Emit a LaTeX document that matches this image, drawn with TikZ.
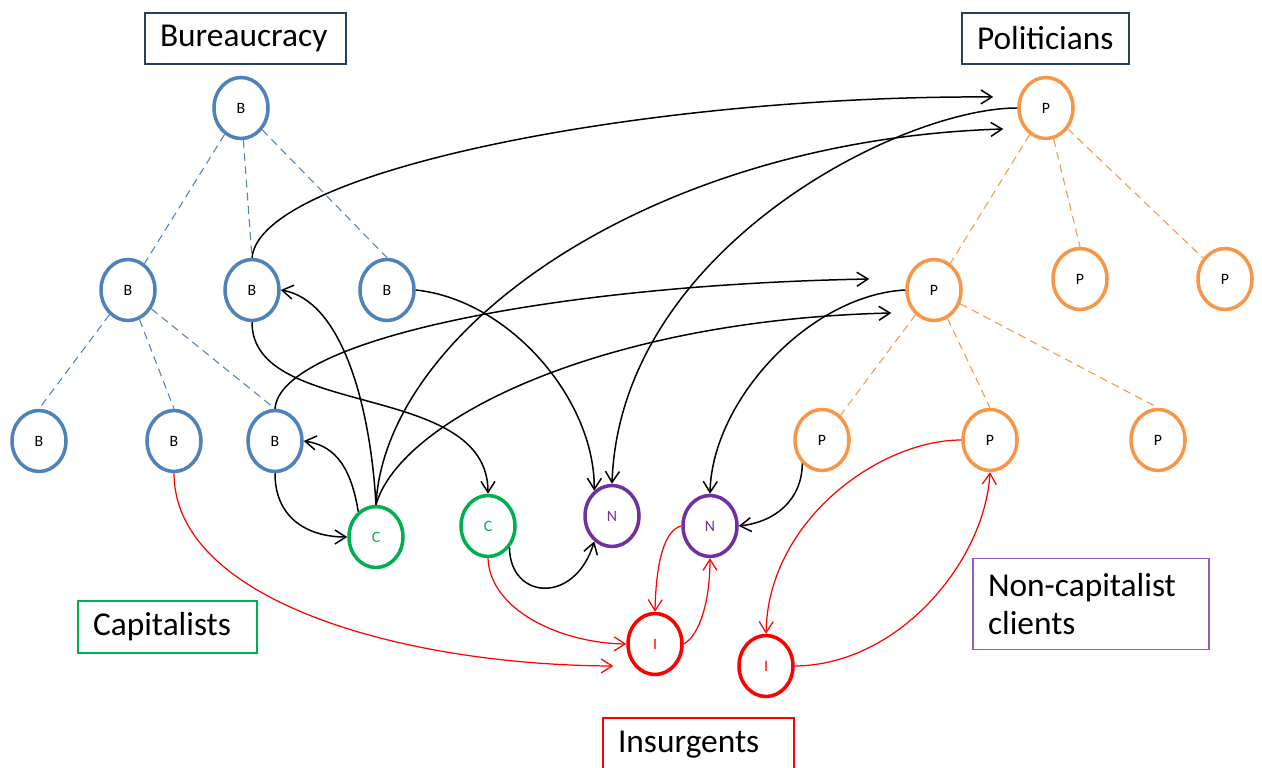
\documentclass[tikz,border=0pt]{standalone}
\usepackage{fontspec}
\setmainfont{Carlito}
\usetikzlibrary{shapes.geometric,arrows.meta}

\definecolor{bblue}{RGB}{79,129,189}
\definecolor{porange}{RGB}{247,150,70}
\definecolor{cgreen}{RGB}{0,176,80}
\definecolor{npurple}{RGB}{112,48,160}
\definecolor{ired}{RGB}{255,0,0}
\definecolor{navy}{RGB}{37,64,97}
\definecolor{lpurple}{RGB}{142,94,194}

\tikzset{
  actor/.style={ellipse,draw,line width=2pt,minimum width=1.08cm,minimum height=1.22cm,inner sep=0pt,font=\fontsize{9}{10}\selectfont},
  bnode/.style={actor,draw=bblue},
  pnode/.style={actor,draw=porange},
  cnode/.style={actor,draw=cgreen,text=cgreen},
  nnode/.style={actor,draw=npurple,text=npurple},
  inode/.style={actor,draw=ired,text=ired},
  group/.style={draw,line width=0.7pt,align=left,inner xsep=0.3cm,inner ysep=0pt,font=\fontsize{19}{21.5}\selectfont},
  tie/.style={dash pattern=on 4.5pt off 3pt,line width=0.6pt},
  link/.style={->,line width=0.85pt},
  rlink/.style={->,ired,line width=0.7pt}
}

\begin{document}
\begin{tikzpicture}[x=0.2mm,y=-0.2mm,>={Straight Barb[length=2.2mm,width=2.8mm]}]
 \useasboundingbox (0,0) rectangle (1262,768);
 % group labels
 \node[group,draw=navy,text width=3.42cm,minimum height=1.02cm] (lbur) at (245.5,38.5) {Bureaucracy};
 \node[group,draw=navy,text width=2.74cm,minimum height=1.02cm] (lpol) at (1045.5,38.5) {Politicians};
 \node[group,draw=cgreen,text width=2.98cm,minimum height=1.04cm] (lcap) at (167.5,627) {Capitalists};
 \node[group,draw=lpurple,text width=4.12cm,minimum height=1.82cm] (lncl) at (1091,604) {Non-capitalist\\clients};
 \node[group,draw=ired,text width=3.22cm,minimum height=1.08cm] (lins) at (698.5,745) {Insurgents};
 % bureaucracy
 \node[bnode] (b0) at (241,108) {B};
 \node[bnode] (b1) at (128,290) {B};
 \node[bnode] (b2) at (252,290) {B};
 \node[bnode] (b3) at (387,290) {B};
 \node[bnode] (b4) at (39,441) {B};
 \node[bnode] (b5) at (174,441) {B};
 \node[bnode] (b6) at (275,441) {B};
 % politicians
 \node[pnode] (p0) at (1046,108) {P};
 \node[pnode] (p1) at (934,290) {P};
 \node[pnode] (p2) at (1080,279) {P};
 \node[pnode] (p3) at (1225,279) {P};
 \node[pnode] (p4) at (822,440) {P};
 \node[pnode] (p5) at (990,440) {P};
 \node[pnode] (p6) at (1158,440) {P};
 % clients and insurgents
 \node[cnode] (c1) at (376,537) {C};
 \node[cnode] (c2) at (488,526) {C};
 \node[nnode] (n1) at (612,516) {N};
 \node[nnode] (n2) at (710,526) {N};
 \node[inode] (i1) at (655,644) {I};
 \node[inode] (i2) at (766,666) {I};
 % hierarchies
 \draw[tie,bblue] (b0) -- (b1);
 \draw[tie,bblue] (b0) -- (b2.north);
 \draw[tie,bblue] (b0) -- (b3.north);
 \draw[tie,bblue] (b1) -- (b4.north);
 \draw[tie,bblue] (b1) -- (b5.north);
 \draw[tie,bblue] (b1) -- (b6.north);
 \draw[tie,porange] (p0) -- (p1);
 \draw[tie,porange] (p0) -- (p2.north);
 \draw[tie,porange] (p0) -- (p3);
 \draw[tie,porange] (p1) -- (p4);
 \draw[tie,porange] (p1) -- (p5.north);
 \draw[tie,porange] (p1) -- (p6.north);
 % clientelist links
 \draw[link] (b2.north) .. controls (260,170) and (650,95) .. ([shift={(-24,-11)}]p0.west);
 \draw[link] (p0.west) .. controls (900,108) and (620,250) .. (n1.north);
 \draw[link] (c1.north) .. controls (385,330) and (650,140) .. ([shift={(-14,21)}]p0.west);
 \draw[link] (b3.east) .. controls (510,300) and (595,400) .. (n1.125);
 \draw[link] (b2.south) .. controls (252,420) and (488,380) .. (c2.north);
 \draw[link] (b6.north) .. controls (280,340) and (550,285) .. ([shift={(-36,-11)}]p1.west);
 \draw[link] (c1.north) .. controls (400,420) and (600,320) .. ([shift={(-14,23)}]p1.west);
 \draw[link] (c1.north) .. controls (370,400) and (340,300) .. (b2.east);
 \draw[link] (c1.125) .. controls (350,460) and (330,445) .. (b6.east);
 \draw[link] (b6.south) .. controls (275,520) and (310,537) .. (c1.west);
 \draw[link] (c2.-45) .. controls (510,600) and (575,605) .. (n1.235);
 \draw[link] (p1.west) .. controls (810,295) and (712,400) .. (n2.north);
 \draw[link] (p4.230) .. controls (802,500) and (775,522) .. (n2.east);
 % insurgent links
 \draw[rlink] (b5.south) .. controls (174,600) and (400,665) .. ([shift={(-13,22)}]i1.west);
 \draw[rlink] (c2.south) .. controls (490,610) and (560,643) .. (i1.west);
 \draw[rlink] (n2.west) .. controls (665,530) and (656,560) .. (i1.north);
 \draw[rlink] (i1.east) .. controls (700,635) and (710,600) .. (n2.south);
 \draw[rlink] (p5.west) .. controls (880,440) and (768,520) .. (i2.north);
 \draw[rlink] (i2.east) .. controls (900,665) and (985,560) .. (p5.south);
\end{tikzpicture}
\end{document}
